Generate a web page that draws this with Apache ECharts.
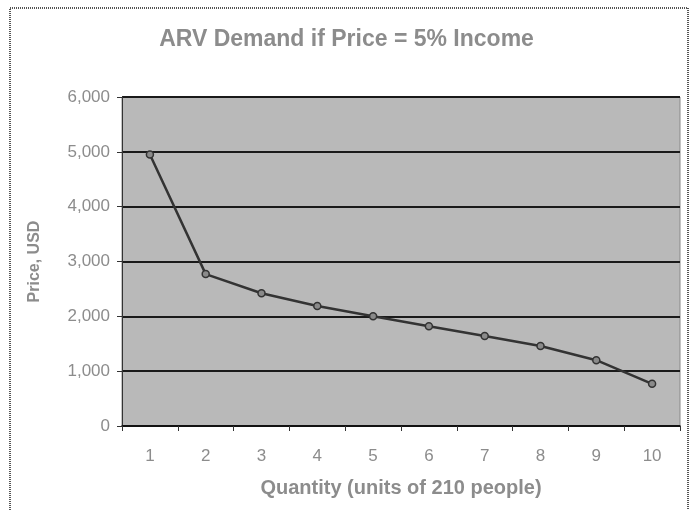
<!DOCTYPE html>
<html>
<head>
<meta charset="utf-8">
<script src="https://cdn.jsdelivr.net/npm/echarts@6/dist/echarts.min.js"></script>
<style>
html,body{margin:0;padding:0;background:#fff;}
#chart{width:693px;height:510px;}
</style>
</head>
<body>
<div id="chart"></div>
<script>
// data
let quantity = ['1','2','3','4','5','6','7','8','9','10']
let price = [4950, 2770, 2420, 2190, 2000, 1820, 1640, 1460, 1200, 770]
let y_ticks = [0, 1000, 2000, 3000, 4000, 5000, 6000]

let txt = '#8c8c8c'
let mychart = echarts.init(document.getElementById('chart'))
mychart.setOption({
    backgroundColor: '#fff',
    textStyle: {fontFamily: 'Liberation Sans'},
    title: {
        text: 'ARV Demand if Price = 5% Income',
        left: 'center',
        top: 23,
        textStyle: {color: txt, fontSize: 23, fontWeight: 'bold'}
    },
    // outer frame
    graphic: [{
        type: 'rect',
        shape: {x: 10, y: 8, width: 678, height: 540},
        style: {fill: 'none', stroke: '#555', lineWidth: 2, lineDash: [1, 1]},
        silent: true
    }],
    grid: {
        left: 122, right: 13, top: 97, bottom: 84,
        show: true,
        backgroundColor: '#b9b9b9',
        borderColor: '#888',
        borderWidth: 1
    },
    xAxis: {
        type: 'category',
        data: quantity,
        boundaryGap: true,
        name: 'Quantity (units of 210 people)',
        nameLocation: 'middle',
        nameGap: 52,
        nameTextStyle: {color: txt, fontSize: 20, fontWeight: 'bold'},
        axisLine: {lineStyle: {color: '#111', width: 1.5}},
        axisTick: {show: true, length: 5, lineStyle: {color: '#333'}},
        axisLabel: {color: txt, fontSize: 17, margin: 22},
        splitLine: {show: false}
    },
    yAxis: {
        type: 'value',
        min: y_ticks[0],
        max: y_ticks[y_ticks.length - 1],
        interval: 1000,
        name: 'Price, USD',
        nameLocation: 'middle',
        nameGap: 79,
        nameTextStyle: {color: txt, fontSize: 16, fontWeight: 'bold'},
        axisLine: {show: true, lineStyle: {color: '#333', width: 1}},
        axisTick: {show: true, length: 5, lineStyle: {color: '#333'}},
        axisLabel: {
            color: txt, fontSize: 17, margin: 12,
            formatter: v => v.toLocaleString('en-US')
        },
        splitLine: {show: true, lineStyle: {color: '#1a1a1a', width: 2}}
    },
    series: [{
        name: 'Price',
        type: 'line',
        data: price,
        symbol: 'circle',
        symbolSize: 7,
        lineStyle: {color: '#333', width: 2.5},
        itemStyle: {color: '#8a8a8a', borderColor: '#333', borderWidth: 1.5},
        animation: false
    }]
})
</script>
</body>
</html>
